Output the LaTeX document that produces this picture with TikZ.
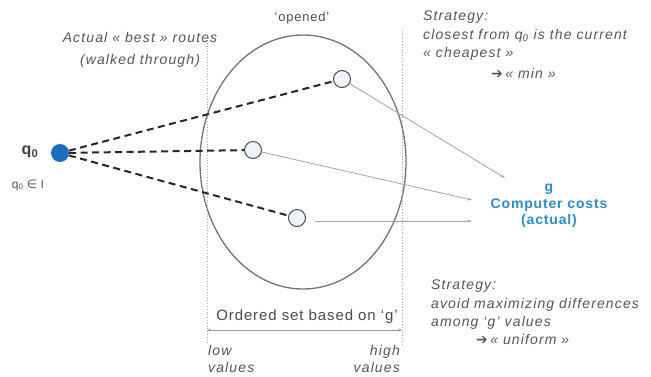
\documentclass[tikz,border=0pt]{standalone}
\usepackage{fontspec}
\setmainfont{Liberation Sans}
\newfontfamily\symfont{DejaVu Sans}
\usetikzlibrary{arrows.meta,shapes.geometric}
\definecolor{txtgray}{HTML}{555555}
\definecolor{qblue}{HTML}{1E6CC0}
\definecolor{costblue}{HTML}{2E8CC8}
\definecolor{circfill}{HTML}{EEF4FA}
\definecolor{arrowc}{HTML}{8FA9B8}
\newcommand{\spaced}{\addfontfeature{LetterSpace=8}}
\tikzset{
  x=1pt, y=-1pt,
  lbl/.style={font=\fontsize{14}{18.5}\selectfont\itshape\spaced, text=txtgray, inner sep=0pt, align=left},
  opencirc/.style={circle, draw=black!70, line width=1pt, fill=circfill, minimum size=17pt, inner sep=0pt},
  route/.style={dashed, dash pattern=on 7pt off 4.5pt, line width=2pt, black!85},
  costarrow/.style={arrowc, line width=0.8pt, -{Stealth[length=5pt,width=3pt]}},
  guide/.style={black!35, dotted, line width=0.8pt},
}
\begin{document}
\begin{tikzpicture}
\useasboundingbox (0,0) rectangle (651,376);
% ellipse
\node[ellipse, draw=black!55, line width=1.3pt, minimum width=206pt, minimum height=254pt, inner sep=0pt] (set) at (303,162) {};
% guides
\coordinate (gl1) at (207,40);
\coordinate (gl2) at (207,345);
\coordinate (gr1) at (402,30);
\coordinate (gr2) at (402,345);
\draw[guide] (gl1) -- (gl2);
\draw[guide] (gr1) -- (gr2);
\coordinate (ol) at (207,330);
\coordinate (or) at (402,330);
\draw[black!40, line width=0.7pt, {Stealth[length=4pt,width=3pt]}-{Stealth[length=4pt,width=3pt]}] (ol) -- (or);
\node[font=\fontsize{15}{17}\selectfont\addfontfeature{LetterSpace=6}, text=black!70, inner sep=0pt] (oset) at (307,317) {Ordered set based on `g'};
\node[lbl, anchor=base west] (low) at (208,355) {low};
\node[lbl, anchor=base west] (lowv) at (208,372) {values};
\node[lbl, anchor=base east] (high) at (400,355) {high};
\node[lbl, anchor=base east] (highv) at (400,372) {values};
% nodes
\node[circle, fill=qblue, minimum size=18pt, inner sep=0pt] (q0) at (60,153) {};
\node[font=\fontsize{16}{17}\selectfont\bfseries, text=black!75, inner sep=0pt] (q0l) at (30,152) {q\textsubscript{0}};
\node[font=\fontsize{12}{13}\selectfont, text=black!65, inner sep=0pt] (q0i) at (28,185) {q\textsubscript{0} {\symfont ∈} I};
\node[opencirc] (c1) at (342,79) {};
\node[opencirc] (c2) at (253,150) {};
\node[opencirc] (c3) at (297,218) {};
\draw[route] (q0) -- (c1);
\draw[route] (q0) -- (c2);
\draw[route] (q0) -- (c3);
% costs
\node[font=\fontsize{14}{16.5}\selectfont\bfseries\addfontfeature{LetterSpace=6}, text=costblue, align=center, inner sep=0pt] (g) at (549,206) {g\\Computer costs\\(actual)};
\coordinate (e1) at (505,178);
\coordinate (e2) at (472,200);
\coordinate (e3) at (472,221);
\coordinate (s3) at (315,221);
\draw[costarrow] (c1) -- (e1);
\draw[costarrow] (c2) -- (e2);
\draw[costarrow] (s3) -- (e3);
% texts
\node[font=\fontsize{13}{16}\selectfont\addfontfeature{LetterSpace=6}, text=black!70, inner sep=0pt] (opened) at (302,18) {`opened'};
\node[lbl, align=center] (actual) at (140,50) {Actual « best » routes\\[4pt](walked through)};
\node[lbl, anchor=north west] (strat1) at (423,11) {Strategy:\\closest from q\textsubscript{0} is the current\\« cheapest »};
\node[lbl, anchor=west] (min) at (491,73) {{\symfont\upshape ➔}\,« min »};
\node[lbl, anchor=north west] (strat2) at (431,280) {Strategy:\\avoid maximizing differences\\among `g' values};
\node[lbl, anchor=west] (unif) at (476,339) {{\symfont\upshape ➔}\,« uniform »};
\end{tikzpicture}
\end{document}
